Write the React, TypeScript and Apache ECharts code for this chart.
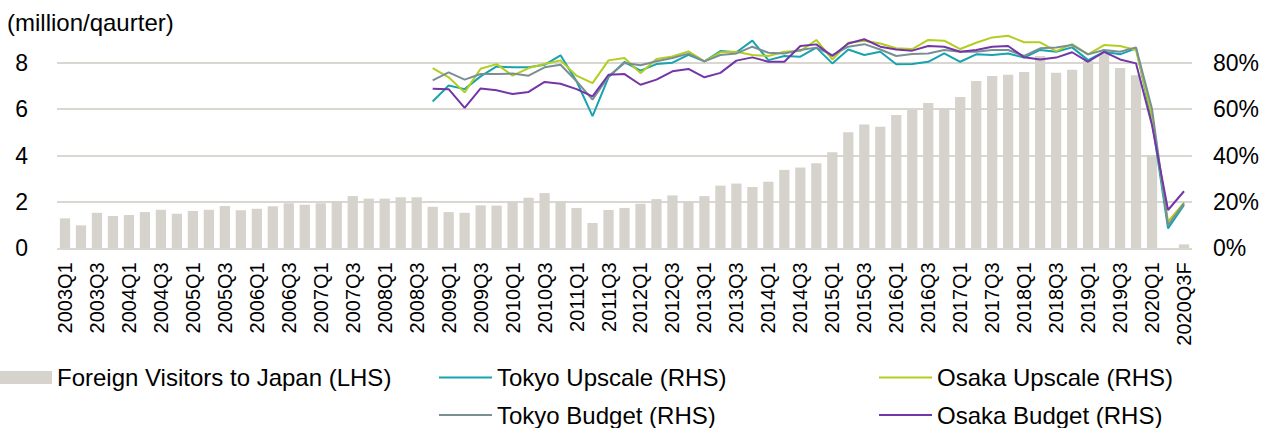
import React, { useEffect, useRef } from "react";
import * as echarts from "echarts";

const categories = [
  "2003Q1","2003Q2","2003Q3","2003Q4","2004Q1","2004Q2","2004Q3","2004Q4",
  "2005Q1","2005Q2","2005Q3","2005Q4","2006Q1","2006Q2","2006Q3","2006Q4",
  "2007Q1","2007Q2","2007Q3","2007Q4","2008Q1","2008Q2","2008Q3","2008Q4",
  "2009Q1","2009Q2","2009Q3","2009Q4","2010Q1","2010Q2","2010Q3","2010Q4",
  "2011Q1","2011Q2","2011Q3","2011Q4","2012Q1","2012Q2","2012Q3","2012Q4",
  "2013Q1","2013Q2","2013Q3","2013Q4","2014Q1","2014Q2","2014Q3","2014Q4",
  "2015Q1","2015Q2","2015Q3","2015Q4","2016Q1","2016Q2","2016Q3","2016Q4",
  "2017Q1","2017Q2","2017Q3","2017Q4","2018Q1","2018Q2","2018Q3","2018Q4",
  "2019Q1","2019Q2","2019Q3","2019Q4","2020Q1","2020Q2","2020Q3F",
];

// Foreign visitors (million per quarter), 2003Q1 .. 2020Q3F
const visitors = [
  1.29, 0.99, 1.53, 1.39, 1.44, 1.56, 1.66, 1.49,
  1.61, 1.66, 1.82, 1.64, 1.71, 1.81, 1.94, 1.88,
  1.94, 2.04, 2.25, 2.14, 2.14, 2.2, 2.2, 1.79,
  1.56, 1.53, 1.85, 1.84, 2.01, 2.18, 2.38, 2.01,
  1.74, 1.09, 1.65, 1.74, 1.92, 2.12, 2.28, 2.01,
  2.25, 2.7, 2.79, 2.64, 2.87, 3.38, 3.48, 3.67,
  4.14, 5.0, 5.34, 5.24, 5.75, 5.96, 6.26, 6.05,
  6.52, 7.21, 7.43, 7.48, 7.6, 8.29, 7.57, 7.7,
  8.07, 8.4, 7.77, 7.46, 4.02, 0.01, 0.17,
];

// Occupancy (%), 2008Q4 .. 2020Q3F
const lineStart = "2008Q4";
const tokyoUpscale = [
  63.3, 70.2, 68.6, 74.1, 78.4, 78.0, 78.0, 79.1, 83.2, 72.0, 57.0, 73.7,
  80.3, 76.6, 79.4, 80.0, 83.4, 80.6, 85.0, 84.5, 89.5, 81.1, 82.9, 82.6,
  86.5, 79.7, 85.7, 83.3, 84.7, 79.3, 79.4, 80.4, 84.0, 80.4, 83.6, 83.3,
  84.0, 82.2, 85.5, 84.7, 86.6, 81.1, 84.7, 83.6, 86.2, 55.0, 8.6, 18.7,
];
const osakaUpscale = [
  77.7, 73.7, 67.2, 77.4, 79.4, 74.4, 77.7, 79.4, 81.0, 74.4, 71.2, 81.0,
  82.0, 75.5, 81.6, 82.7, 84.9, 80.6, 84.5, 84.7, 83.3, 82.9, 84.7, 85.0,
  89.8, 81.4, 88.6, 89.5, 88.3, 86.2, 85.9, 89.8, 89.5, 85.9, 88.6, 90.9,
  91.6, 88.8, 88.8, 85.0, 88.0, 83.6, 87.6, 87.2, 85.5, 57.0, 11.5, 19.7,
];
const tokyoBudget = [
  72.4, 75.8, 72.7, 75.1, 75.1, 75.3, 74.4, 78.0, 79.1, 72.0, 64.1, 74.1,
  79.9, 78.9, 80.6, 82.0, 83.9, 80.6, 83.3, 84.0, 86.9, 84.3, 84.0, 85.5,
  86.5, 83.3, 86.9, 88.0, 85.7, 82.9, 83.7, 84.0, 85.5, 84.7, 84.7, 85.5,
  85.5, 82.9, 86.2, 86.6, 87.6, 83.6, 85.5, 84.7, 86.6, 60.0, 10.0, 19.4,
];
const osakaBudget = [
  68.8, 68.6, 60.5, 68.9, 68.1, 66.5, 67.4, 71.7, 70.9, 68.6, 65.5, 74.8,
  75.1, 70.5, 72.7, 76.3, 77.3, 73.7, 75.6, 80.9, 82.3, 80.4, 80.4, 87.2,
  87.9, 82.9, 88.3, 90.1, 86.9, 85.7, 85.2, 87.2, 86.9, 84.7, 85.5, 86.9,
  87.2, 82.3, 81.4, 82.2, 84.5, 80.4, 84.7, 81.4, 79.7, 53.0, 16.5, 24.6,
];

const leftTicks = [0, 2, 4, 6, 8];
const rightTicks = [0, 20, 40, 60, 80];

const FONT = "'Liberation Sans', Arial, Helvetica, sans-serif";
const GRID_COLOR = "#DAD6D1";

function pad(values: number[]): (number | null)[] {
  const offset = categories.indexOf(lineStart);
  const out: (number | null)[] = categories.map(() => null);
  values.forEach((v, i) => {
    out[offset + i] = v;
  });
  return out;
}

export default function App() {
  const ref = useRef<HTMLDivElement>(null);

  useEffect(() => {
    if (!ref.current) return;
    const chart = echarts.init(ref.current, undefined, { renderer: "svg" });

    const lineSeries = [
      { name: "Tokyo Upscale (RHS)", data: tokyoUpscale, color: "#17A3AF" },
      { name: "Osaka Upscale (RHS)", data: osakaUpscale, color: "#B4CD1E" },
      { name: "Tokyo Budget (RHS)", data: tokyoBudget, color: "#7A8F94" },
      { name: "Osaka Budget (RHS)", data: osakaBudget, color: "#7435A6" },
    ];

    const legendText = { fontSize: 24, color: "#000", fontFamily: FONT, lineHeight: 24 };

    chart.setOption({
      animation: false,
      textStyle: { fontFamily: FONT },
      title: {
        text: "(million/qaurter)",
        left: 7,
        top: 10,
        padding: 0,
        textStyle: { fontSize: 24, fontWeight: "normal", color: "#000", fontFamily: FONT, lineHeight: 24 },
      },
      grid: { left: 57, right: 79, top: 16.3, bottom: 179.7 },
      legend: [
        {
          data: ["Foreign Visitors to Japan (LHS)"],
          left: 0,
          top: 365.5,
          width: 420,
          height: 40,
          padding: 0,
          itemWidth: 52,
          itemHeight: 13,
          icon: "rect",
          textStyle: legendText,
        },
        {
          data: ["Tokyo Upscale (RHS)", "Tokyo Budget (RHS)"],
          orient: "vertical",
          left: 439,
          top: 365.5,
          width: 400,
          height: 100,
          padding: 0,
          itemGap: 13.5,
          itemWidth: 53,
          itemHeight: 2,
          icon: "rect",
          textStyle: legendText,
        },
        {
          data: ["Osaka Upscale (RHS)", "Osaka Budget (RHS)"],
          orient: "vertical",
          left: 879,
          top: 365.5,
          width: 390,
          height: 100,
          padding: 0,
          itemGap: 13.5,
          itemWidth: 53,
          itemHeight: 2,
          icon: "rect",
          textStyle: legendText,
        },
      ],
      xAxis: {
        type: "category",
        data: categories,
        boundaryGap: true,
        axisLine: { show: false },
        axisTick: { show: false },
        axisLabel: {
          rotate: 90,
          interval: 1,
          fontSize: 20,
          margin: 14,
          color: "#000",
          fontFamily: FONT,
        },
      },
      yAxis: [
        {
          type: "value",
          position: "left",
          min: leftTicks[0],
          max: 10,
          interval: 2,
          axisLine: { show: false },
          axisTick: { show: false },
          axisLabel: {
            fontSize: 23,
            margin: 29,
            color: "#000",
            fontFamily: FONT,
            formatter: (v: number) => (leftTicks.includes(v) ? String(v) : ""),
          },
          splitLine: {
            lineStyle: {
              width: 2,
              color: [GRID_COLOR, GRID_COLOR, GRID_COLOR, GRID_COLOR, GRID_COLOR, "rgba(0,0,0,0)"],
            },
          },
        },
        {
          type: "value",
          position: "right",
          min: rightTicks[0],
          max: 100,
          interval: 20,
          axisLine: { show: false },
          axisTick: { show: false },
          splitLine: { show: false },
          axisLabel: {
            fontSize: 23,
            margin: 21,
            color: "#000",
            fontFamily: FONT,
            formatter: (v: number) => (rightTicks.includes(v) ? v + "%" : ""),
          },
        },
      ],
      series: [
        {
          name: "Foreign Visitors to Japan (LHS)",
          type: "bar",
          yAxisIndex: 0,
          data: visitors,
          barWidth: "64%",
          color: "#D6D2CC",
          itemStyle: { color: "#D6D2CC" },
        },
        ...lineSeries.map((s) => ({
          name: s.name,
          type: "line",
          yAxisIndex: 1,
          data: pad(s.data),
          color: s.color,
          symbol: "none",
          showSymbol: false,
          lineStyle: { width: 2, color: s.color },
          itemStyle: { color: s.color },
        })),
      ],
    });

    return () => chart.dispose();
  }, []);

  return (
    <div
      ref={ref}
      style={{ position: "fixed", left: 0, top: 0, width: 1271, height: 428, background: "#fff" }}
    />
  );
}
